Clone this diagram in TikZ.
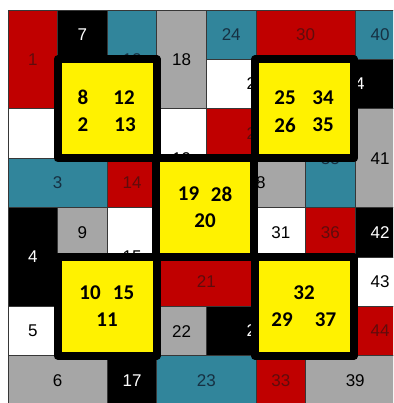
\documentclass[tikz,border=0pt]{standalone}
\usepackage{fontspec}
\setmainfont{Liberation Sans}
\newfontfamily\yfont{Carlito}
\definecolor{cred}{RGB}{192,0,0}
\definecolor{cteal}{RGB}{49,133,155}
\definecolor{cgrey}{RGB}{166,166,166}
\definecolor{tred}{RGB}{95,12,12}
\definecolor{tteal}{RGB}{22,48,66}
\definecolor{cedge}{RGB}{55,55,55}
\begin{document}
\begin{tikzpicture}[x=1pt,y=-1pt,
  cell/.style={draw=cedge, line width=0.8pt},
  lab/.style={font=\fontsize{17}{17}\selectfont, inner sep=0pt},
  ysq/.style={draw=black, fill=yellow, line width=8pt, line join=round},
  ylab/.style={font=\yfont\bfseries\fontsize{21}{21}\selectfont, inner sep=0pt}]
\useasboundingbox (0,0) rectangle (393,403);
\clip (0,0) rectangle (393,403);
\fill[white] (0,0) rectangle (393,403);
% cell 2 (label hidden)
\draw[cell, fill=white] (8,108.8) rectangle (107.2,158.2);
\foreach \ca/\cb/\ra/\rb/\fc/\tc/\lb in {
  0/0/0/1/cred/tred/1, 0/1/3/3/cteal/tteal/3, 0/0/4/5/black/white/4,
  0/0/6/6/white/black/5, 0/1/7/7/cgrey/black/6, 1/1/0/0/black/white/7,
  1/1/4/4/cgrey/black/9, 2/2/0/1/cteal/tteal/12, 2/2/3/3/cred/tred/14,
  2/2/4/5/white/black/15, 2/2/7/7/black/white/17, 3/3/0/1/cgrey/black/18,
  3/3/2/3/white/black/19, 3/4/5/5/cred/tred/21, 3/3/6/6/cgrey/black/22,
  3/4/7/7/cteal/tteal/23, 4/4/0/0/cteal/tteal/24, 4/5/1/1/white/black/25,
  4/5/2/2/cred/tred/26, 4/5/3/3/cgrey/black/28, 4/5/6/6/black/white/29,
  5/6/0/0/cred/tred/30, 5/5/4/4/white/black/31, 5/5/7/7/cred/tred/33,
  6/7/1/1/black/white/34, 6/6/2/3/cteal/tteal/35, 6/6/4/4/cred/tred/36,
  6/7/7/7/cgrey/black/39, 7/7/0/0/cteal/tteal/40, 7/7/2/3/cgrey/black/41,
  7/7/4/4/black/white/42, 7/7/5/5/white/black/43, 7/7/6/6/cred/tred/44}{
  \pgfmathsetmacro\xa{8+49.6*\ca}
  \pgfmathsetmacro\xb{8+49.6*(\cb+1)}
  \pgfmathsetmacro\ya{10+49.4*\ra}
  \pgfmathsetmacro\yb{10+49.4*(\rb+1)}
  \pgfmathsetmacro\xm{(\xa+\xb)/2}
  \pgfmathsetmacro\ym{(\ya+\yb)/2}
  \draw[cell, fill=\fc] (\xa,\ya) rectangle (\xb,\yb);
  \node[lab, text=\tc] (c\lb) at (\xm,\ym) {\lb};
}
% yellow squares
\draw[ysq] (57.6,59.4) rectangle (156.8,158.2);
\draw[ysq] (255,59.4) rectangle (354.2,158.2);
\draw[ysq] (155.8,158.2) rectangle (254,257);
\draw[ysq] (57.6,257) rectangle (156.8,355.8);
\draw[ysq] (255,257) rectangle (354.2,355.8);
% yellow labels
\node[ylab] (y8) at (83,97.5) {8};
\node[ylab] (y12) at (124,97.5) {12};
\node[ylab] (y2) at (83,124.5) {2};
\node[ylab] (y13) at (125,124.5) {13};
\node[ylab] (y25) at (285,97.5) {25};
\node[ylab] (y34) at (323,97.5) {34};
\node[ylab] (y26) at (285,125) {26};
\node[ylab] (y35) at (323,125) {35};
\node[ylab] (y19) at (188.5,194) {19};
\node[ylab] (y28) at (221.5,194) {28};
\node[ylab] (y20) at (205,220.5) {20};
\node[ylab] (y10) at (90,292.5) {10};
\node[ylab] (y15) at (123.5,292.5) {15};
\node[ylab] (y11) at (107,319.5) {11};
\node[ylab] (y32) at (304,293) {32};
\node[ylab] (y29) at (282,320) {29};
\node[ylab] (y37) at (325.5,320) {37};
\end{tikzpicture}
\end{document}
